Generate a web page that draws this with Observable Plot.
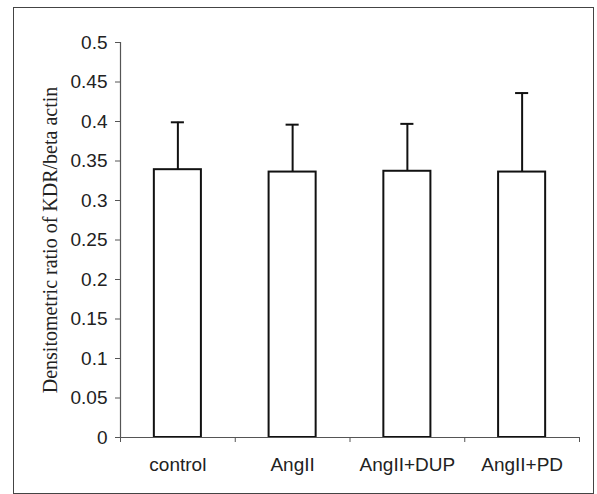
<!DOCTYPE html>
<html>
<head>
<meta charset="utf-8">
<script src="https://cdn.jsdelivr.net/npm/d3@7"></script>
<script src="https://cdn.jsdelivr.net/npm/@observablehq/plot@0.6"></script>
<style>
  html, body { margin: 0; padding: 0; background: #fff; }
  #wrap { position: relative; width: 597px; height: 494px; overflow: hidden; }
  #frame { position: absolute; left: 13px; top: 7px; width: 579px; height: 485px; border: 1.5px solid #444; pointer-events: none; }
</style>
</head>
<body>
<div id="wrap"><div id="frame"></div></div>
<script>
const categories = ["control", "AngII", "AngII+DUP", "AngII+PD"];
const means = [0.339, 0.336, 0.337, 0.336];
const errors = [0.060, 0.060, 0.060, 0.100];
const yTicks = [0, 0.05, 0.1, 0.15, 0.2, 0.25, 0.3, 0.35, 0.4, 0.45, 0.5];
const yLabel = "Densitometric ratio of KDR/beta actin";

const data = categories.map((c, i) => ({c, i, mean: means[i], top: means[i] + errors[i]}));
const half = 0.205;   // half bar width in band units
const cap = 0.057;    // half error-cap width in band units

const chart = Plot.plot({
  width: 597,
  height: 494,
  marginLeft: 120,
  marginRight: 18,
  marginTop: 42,
  marginBottom: 57,
  style: {fontFamily: "'Liberation Sans', Arial, sans-serif", fontSize: "19px", color: "#222", background: "transparent"},
  x: {domain: [0, 4], axis: null},
  y: {domain: [0, 0.5], axis: null},
  marks: [
    Plot.rect(data, {x1: d => d.i + 0.5 - half, x2: d => d.i + 0.5 + half, y1: 0, y2: "mean", fill: "white", stroke: "#111", strokeWidth: 2}),
    Plot.ruleX(data, {x: d => d.i + 0.5, y1: "mean", y2: "top", stroke: "#111", strokeWidth: 2}),
    Plot.ruleY(data, {y: "top", x1: d => d.i + 0.5 - cap, x2: d => d.i + 0.5 + cap, stroke: "#111", strokeWidth: 2}),
    Plot.ruleX([0], {stroke: "#555", strokeWidth: 1.2}),
    Plot.ruleY([0], {stroke: "#555", strokeWidth: 1.2}),
    Plot.axisY({ticks: yTicks, tickSize: 5, tickPadding: 8, tickFormat: d => String(+d.toFixed(2)), label: null, stroke: "#555", fontSize: 19}),
    Plot.axisX({ticks: [0, 1, 2, 3, 4], tickSize: 5, tickFormat: () => "", label: null, stroke: "#555"}),
    Plot.axisX({ticks: [0.5, 1.5, 2.5, 3.5], tickSize: 0, tickPadding: 20, tickFormat: d => categories[Math.floor(d)], label: null, fontSize: 19}),
    Plot.text([yLabel], {text: d => d, frameAnchor: "left", textAnchor: "middle", lineAnchor: "middle", rotate: -90, dx: -70, fontFamily: "'Liberation Serif', 'Times New Roman', serif", fontSize: 20, fill: "#222"})
  ]
});
document.getElementById("wrap").prepend(chart);
</script>
</body>
</html>
